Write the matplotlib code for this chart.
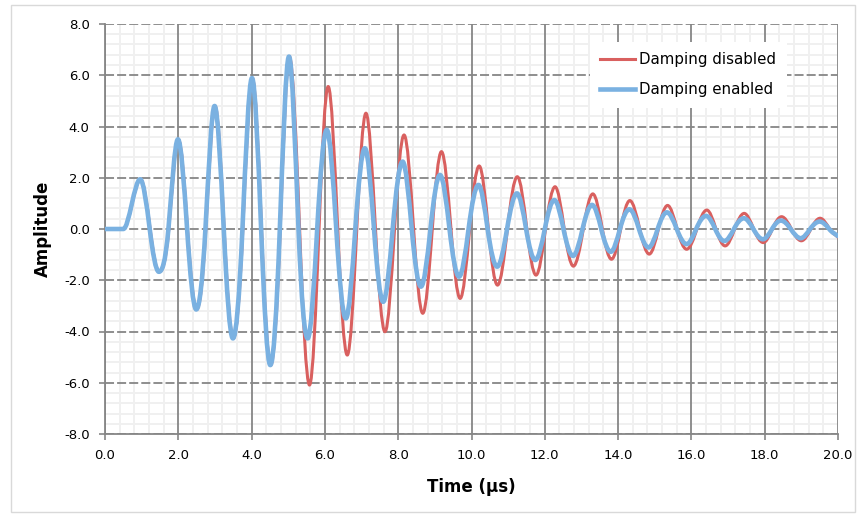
import matplotlib.pyplot as plt
import numpy as np
from matplotlib.path import Path
from matplotlib.patches import PathPatch, Rectangle
from matplotlib.lines import Line2D
from matplotlib.ticker import MultipleLocator, FormatStrFormatter

# --- data (time in us, amplitude) ---
# extrema and zero crossings of each trace
t_off = [0.0, 0.5, 0.97, 1.23, 1.48, 1.74, 2.00, 2.25, 2.50, 2.75, 3.00, 3.25, 3.50, 3.76,
         4.02, 4.27, 4.52, 4.78, 5.03, 5.31, 5.58, 5.84, 6.09, 6.35, 6.61, 6.87, 7.12, 7.38,
         7.64, 7.90, 8.16, 8.42, 8.67, 8.93, 9.18, 9.44, 9.69, 9.95, 10.21, 10.46, 10.71, 10.98,
         11.25, 11.51, 11.76, 12.02, 12.28, 12.53, 12.78, 13.05, 13.31, 13.57, 13.82, 14.07,
         14.32, 14.59, 14.85, 15.10, 15.35, 15.61, 15.87, 16.15, 16.42, 16.67, 16.92, 17.18,
         17.44, 17.70, 17.96, 18.21, 18.46, 18.73, 19.00, 19.26, 19.51, 19.77, 20.0]
a_off = [0, 0, 1.94, 0, -1.67, 0, 3.50, 0, -3.14, 0, 4.80, 0, -4.27, 0,
         5.89, 0, -5.31, 0, 6.73, 0, -6.09, 0, 5.56, 0, -4.92, 0, 4.52, 0,
         -4.01, 0, 3.67, 0, -3.29, 0, 3.02, 0, -2.71, 0, 2.46, 0, -2.19, 0,
         2.04, 0, -1.80, 0, 1.65, 0, -1.45, 0, 1.37, 0, -1.18, 0,
         1.11, 0, -0.98, 0, 0.92, 0, -0.79, 0, 0.74, 0, -0.66, 0,
         0.61, 0, -0.53, 0, 0.48, 0, -0.46, 0, 0.42, 0, -0.32]

t_on = [0.0, 0.5, 0.96, 1.22, 1.47, 1.73, 1.99, 2.24, 2.49, 2.74, 2.99, 3.24, 3.49, 3.75,
        4.01, 4.26, 4.51, 4.77, 5.02, 5.28, 5.53, 5.79, 6.05, 6.31, 6.57, 6.83, 7.09, 7.34,
        7.59, 7.85, 8.12, 8.37, 8.62, 8.88, 9.14, 9.40, 9.66, 9.92, 10.19, 10.44, 10.70, 10.97,
        11.24, 11.49, 11.74, 12.00, 12.26, 12.51, 12.77, 13.03, 13.29, 13.54, 13.80, 14.05,
        14.31, 14.57, 14.83, 15.08, 15.33, 15.60, 15.87, 16.13, 16.40, 16.65, 16.90, 17.16,
        17.43, 17.69, 17.95, 18.20, 18.44, 18.71, 18.98, 19.24, 19.50, 19.76, 20.0]
a_on = [0, 0, 1.94, 0, -1.67, 0, 3.50, 0, -3.14, 0, 4.80, 0, -4.27, 0,
        5.89, 0, -5.31, 0, 6.73, 0, -4.27, 0, 3.87, 0, -3.49, 0, 3.15, 0,
        -2.84, 0, 2.63, 0, -2.25, 0, 2.11, 0, -1.86, 0, 1.72, 0, -1.47, 0,
        1.39, 0, -1.21, 0, 1.13, 0, -1.05, 0, 0.94, 0, -0.89, 0,
        0.77, 0, -0.72, 0, 0.65, 0, -0.59, 0, 0.51, 0, -0.47, 0,
        0.42, 0, -0.40, 0, 0.33, 0, -0.36, 0, 0.29, 0, -0.28]

labels = ["Damping disabled", "Damping enabled"]
colors = ["#D9605F", "#7AB1E1"]
widths = [2.2, 3.3]


def smooth_path(x, y, s=1.6):
    # smoothed line (like excel's), bezier segments through the points
    x = np.asarray(x, float)
    y = np.asarray(y, float)
    n = len(x)
    m = np.zeros(n)
    for i in range(1, n - 1):
        if y[i] == y[i - 1]:
            m[i] = 0.0
        else:
            m[i] = s * (y[i + 1] - y[i - 1]) / (x[i + 1] - x[i - 1])
    m[-1] = (y[-1] - y[-2]) / (x[-1] - x[-2])
    verts = [(x[0], y[0])]
    codes = [Path.MOVETO]
    for i in range(n - 1):
        dx = x[i + 1] - x[i]
        verts += [(x[i] + dx / 3, y[i] + m[i] * dx / 3),
                  (x[i + 1] - dx / 3, y[i + 1] - m[i + 1] * dx / 3),
                  (x[i + 1], y[i + 1])]
        codes += [Path.CURVE4] * 3
    return Path(verts, codes)


fig = plt.figure(figsize=(8.6, 5.14), dpi=100)
ax = fig.add_axes([105 / 860, 1 - 434 / 514, 733 / 860, 410 / 514])

ax.set_xlim(0, 20)
ax.set_ylim(-8, 8)
ax.xaxis.set_major_locator(MultipleLocator(2))
ax.yaxis.set_major_locator(MultipleLocator(2))
ax.xaxis.set_minor_locator(MultipleLocator(0.4))
ax.yaxis.set_minor_locator(MultipleLocator(0.4))
ax.xaxis.set_major_formatter(FormatStrFormatter("%.1f"))
ax.yaxis.set_major_formatter(FormatStrFormatter("%.1f"))

ax.grid(which="minor", color="#F0F0F0", lw=1.4)
ax.set_axisbelow(True)
ylo, yhi = ax.get_ylim()
xlo, xhi = ax.get_xlim()
ax.vlines(ax.get_xticks(), ylo, yhi, colors="#868686", lw=1.3, zorder=1)
ax.hlines(ax.get_yticks(), xlo, xhi, colors="#868686", lw=1.3, zorder=1,
          linestyles=(0, (5.0, 1.7)))

for sp in ["top", "right"]:
    ax.spines[sp].set_visible(False)
for sp in ["left", "bottom"]:
    ax.spines[sp].set_color("#868686")
    ax.spines[sp].set_linewidth(1.3)
    ax.spines[sp].set_zorder(2)

ax.tick_params(which="major", length=4, width=1.2, color="#868686",
               labelsize=9.5, labelcolor="#000000", pad=7)
ax.tick_params(which="minor", length=0)

for tt, aa, c, w in zip([t_off, t_on], [a_off, a_on], colors, widths):
    ax.add_patch(PathPatch(smooth_path(tt, aa), fill=False, edgecolor=c, lw=w,
                           joinstyle="round", capstyle="round", zorder=3))

handles = [Line2D([], [], color=c, lw=w) for c, w in zip(colors, widths)]
leg = ax.legend(handles, labels, loc="upper right", bbox_to_anchor=(0.94, 0.975),
                fontsize=10.8, handlelength=2.3, handletextpad=0.3, labelspacing=1.0,
                borderpad=0.7, frameon=True, fancybox=False)
leg.get_frame().set_facecolor("white")
leg.get_frame().set_edgecolor("none")
leg.get_frame().set_alpha(1)

ax.set_xlabel("Time (\u03bcs)", fontsize=12, fontweight="bold", labelpad=11)
ax.set_ylabel("Amplitude", fontsize=12, fontweight="bold", labelpad=9)

fig.patches.append(Rectangle((11 / 860, 2 / 514), 844 / 860, 507 / 514,
                             transform=fig.transFigure, fill=False,
                             edgecolor="#D9D9D9", lw=1))

fig.savefig("out.png", dpi=100)
